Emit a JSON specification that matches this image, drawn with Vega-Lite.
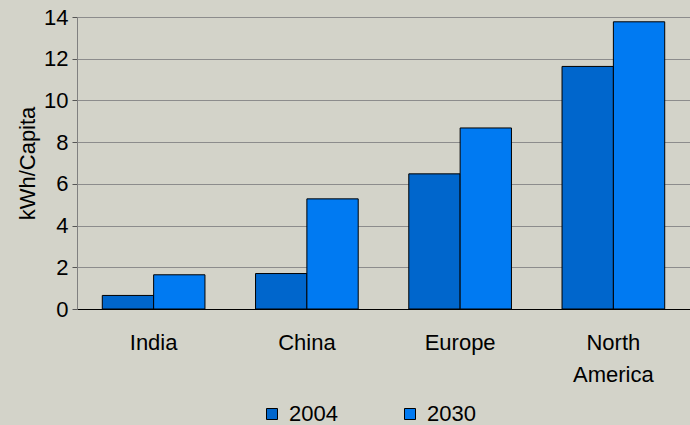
{
  "$schema": "https://vega.github.io/schema/vega-lite/v6.json",
  "width": 613,
  "height": 292,
  "autosize": {"type": "none"},
  "padding": {"left": 77, "top": 17, "right": 0, "bottom": 116},
  "background": "#D3D3C9",
  "config": {
    "view": {"stroke": null},
    "font": "Liberation Sans, Arial, sans-serif"
  },
  "data": {
    "values": [
      {"region": "India", "year": "2004", "value": 0.65},
      {"region": "India", "year": "2030", "value": 1.64},
      {"region": "China", "year": "2004", "value": 1.7},
      {"region": "China", "year": "2030", "value": 5.28},
      {"region": "Europe", "year": "2004", "value": 6.48},
      {"region": "Europe", "year": "2030", "value": 8.68},
      {"region": "North America", "year": "2004", "value": 11.63},
      {"region": "North America", "year": "2030", "value": 13.77}
    ]
  },
  "mark": {"type": "bar", "stroke": "#000000", "strokeWidth": 1},
  "encoding": {
    "x": {
      "field": "region",
      "type": "nominal",
      "sort": ["India", "China", "Europe", "North America"],
      "scale": {"paddingInner": 0.33, "paddingOuter": 0.165},
      "axis": {
        "title": null,
        "labelAngle": 0,
        "ticks": false,
        "domainColor": "#000000",
        "domainWidth": 1,
        "labelFontSize": 22,
        "labelColor": "#000000",
        "labelPadding": 23,
        "labelLineHeight": 32,
        "labelExpr": "datum.label == 'North America' ? ['North', 'America'] : datum.label"
      }
    },
    "xOffset": {"field": "year", "type": "nominal", "scale": {"paddingInner": 0, "paddingOuter": 0}},
    "y": {
      "field": "value",
      "type": "quantitative",
      "scale": {"domain": [0, 14], "nice": false},
      "axis": {
        "title": "kWh/Capita",
        "titleFontSize": 22,
        "titleFontWeight": "normal",
        "titleColor": "#000000",
        "titlePadding": 4,
        "values": [0, 2, 4, 6, 8, 10, 12, 14],
        "labelFontSize": 22,
        "labelColor": "#000000",
        "labelPadding": 4,
        "tickSize": 5,
        "tickColor": "#555555",
        "domainColor": "#808080",
        "gridColor": "#8C8C8C",
        "gridWidth": 1
      }
    },
    "color": {
      "field": "year",
      "type": "nominal",
      "scale": {"domain": ["2004", "2030"], "range": ["#0066CC", "#007AF2"]},
      "legend": {
        "title": null,
        "orient": "none",
        "direction": "horizontal",
        "legendX": 184,
        "legendY": 386,
        "symbolType": "square",
        "symbolSize": 121,
        "symbolStrokeColor": "#000000",
        "symbolStrokeWidth": 1,
        "labelFontSize": 22,
        "labelColor": "#000000",
        "labelOffset": 6,
        "columnPadding": 61
      }
    }
  }
}
